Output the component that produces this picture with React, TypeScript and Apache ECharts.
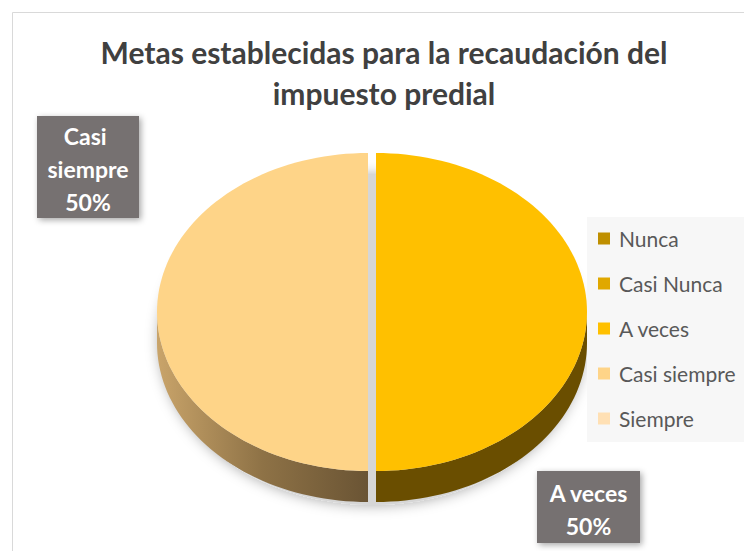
import React, { useEffect, useRef } from "react";
import * as echarts from "echarts";

const categories = ["Nunca", "Casi Nunca", "A veces", "Casi siempre", "Siempre"];
const values = [0, 0, 50, 50, 0];
const sliceColors = ["#BF8F00", "#E0A800", "#FFC000", "#FED488", "#FFE0B4"];
const titleText = "Metas establecidas para la recaudación del\nimpuesto predial";

// layout (pixels)
const CX = 372;
const CY = 312;
const RX = 211;
const RY = 159;
const DEPTH = 31;
const EXPLODE = 4;
const labelBoxes: Record<string, { x: number; y: number; w: number; h: number }> = {
  "A veces": { x: 537, y: 471, w: 103, h: 72 },
  "Casi siempre": { x: 37, y: 116, w: 102, h: 102 },
};

const FONT = "Lato, 'Noto Sans', sans-serif";

function arcPoints(cx: number, cy: number, a0: number, a1: number, yOff = 0) {
  const pts: number[][] = [];
  const steps = Math.max(2, Math.ceil(Math.abs(a1 - a0) / 2));
  for (let k = 0; k <= steps; k++) {
    const a = ((a0 + ((a1 - a0) * k) / steps) * Math.PI) / 180;
    pts.push([cx + RX * Math.cos(a), cy + RY * Math.sin(a) + yOff]);
  }
  return pts;
}

export default function App() {
  const ref = useRef<HTMLDivElement>(null);
  useEffect(() => {
    if (!ref.current) return;
    const chart = echarts.init(ref.current, undefined, { renderer: "svg" });
    const total = values.reduce((s, v) => s + v, 0);

    const renderItem = (params: any, api: any) => {
      const i = params.dataIndex;
      const v = api.value(0);
      if (!v) return { type: "group", children: [] };
      const before = values.slice(0, i).reduce((s, x) => s + x, 0);
      const a0 = -90 + (before / total) * 360;
      const a1 = a0 + (v / total) * 360;
      const mid = (((a0 + a1) / 2) * Math.PI) / 180;
      const cx = CX + EXPLODE * Math.cos(mid);
      const cy = CY + EXPLODE * Math.sin(mid) * (RY / RX);
      const children: any[] = [];

      // visible side (front half)
      const ranges = [
        [0, 180],
        [360, 540],
        [-360, -180],
      ];
      ranges.forEach(([r0, r1]) => {
        const s0 = Math.max(a0, r0);
        const s1 = Math.min(a1, r1);
        if (s1 > s0) {
          const top = arcPoints(cx, cy, s0, s1, 0);
          const bot = arcPoints(cx, cy, s0, s1, DEPTH).reverse();
          const isLight = i >= 3;
          const fill = isLight
            ? new echarts.graphic.LinearGradient(0, 0, 1, 0, [
                { offset: 0, color: "#C9A46A" },
                { offset: 0.5, color: "#8E7246" },
                { offset: 1, color: "#6A5434" },
              ])
            : "#6A4E00";
          children.push({
            type: "polygon",
            z2: 1,
            shape: { points: top.concat(bot) },
            style: { fill, stroke: null },
          });
        }
      });

      // top face
      const topPts = [[cx, cy]].concat(arcPoints(cx, cy, a0, a1, 0));
      children.push({
        type: "polygon",
        z2: 2,
        shape: { points: topPts },
        style: { fill: sliceColors[i], stroke: null },
      });

      // label
      const name = categories[i];
      const box = labelBoxes[name];
      if (box) {
        children.push({
          type: "rect",
          z2: 3,
          shape: { x: box.x, y: box.y, width: box.w, height: box.h },
          style: {
            fill: "#767171",
            shadowBlur: 6,
            shadowOffsetX: 2,
            shadowOffsetY: 2,
            shadowColor: "rgba(0,0,0,0.35)",
          },
        });
        children.push({
          type: "text",
          z2: 4,
          style: {
            text: name + "\n" + Math.round((v / total) * 100) + "%",
            x: box.x + box.w / 2,
            y: box.y + box.h / 2 + 2,
            align: "center",
            verticalAlign: "middle",
            width: 96,
            overflow: "break",
            lineHeight: 33,
            fill: "#FFFFFF",
            font: "bold 23px " + FONT,
          },
        });
      }
      return { type: "group", children };
    };

    chart.setOption({
      animation: false,
      backgroundColor: "#FFFFFF",
      title: {
        text: titleText,
        left: 384,
        top: 31,
        padding: 0,
        textAlign: "center",
        textStyle: {
          fontFamily: FONT,
          fontWeight: "bold",
          fontSize: 30,
          lineHeight: 41,
          color: "#404040",
        },
      },
      legend: {
        orient: "vertical",
        left: 587,
        top: 217,
        padding: [11, 20, 13, 11],
        backgroundColor: "#F7F7F7",
        itemWidth: 12,
        itemHeight: 12,
        itemGap: 24,
        icon: "rect",
        selectedMode: false,
        data: categories,
        textStyle: {
          fontFamily: FONT,
          fontSize: 21,
          lineHeight: 20,
          color: "#595959",
          padding: [0, 0, 0, 4],
        },
      },
      graphic: [
        {
          type: "rect",
          z: -10,
          shape: { x: 12.5, y: 12.5, width: 780, height: 600 },
          style: { fill: "none", stroke: "#D9D9D9", lineWidth: 1 },
        },
        {
          type: "ellipse",
          z: 0,
          shape: { cx: CX, cy: CY + 28, rx: RX + 2, ry: RY + 6 },
          style: {
            fill: "#D6D6D6",
            shadowBlur: 14,
            shadowColor: "rgba(0,0,0,0.35)",
          },
        },
      ],
      series: [
        {
          type: "pie",
          radius: 0,
          center: [-100, -100],
          silent: true,
          label: { show: false },
          labelLine: { show: false },
          data: categories.map((n, i) => ({
            name: n,
            value: values[i],
            itemStyle: { color: sliceColors[i] },
          })),
        },
        {
          type: "custom",
          coordinateSystem: "none",
          z: 5,
          silent: true,
          renderItem,
          data: categories.map((n, i) => ({ name: n, value: [values[i]] })),
        },
      ],
    });
    return () => chart.dispose();
  }, []);
  return (
    <div
      ref={ref}
      style={{ position: "fixed", left: 0, top: 0, width: 744, height: 551 }}
    />
  );
}
